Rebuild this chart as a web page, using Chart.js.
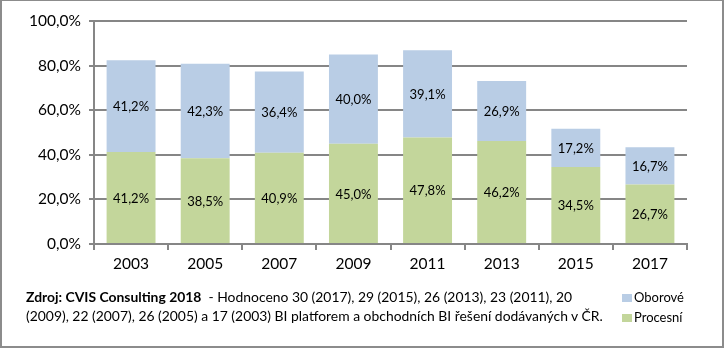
<!DOCTYPE html>
<html lang="cs">
<head>
<meta charset="utf-8">
<script src="https://cdn.jsdelivr.net/npm/chart.js@4/dist/chart.umd.min.js"></script>
<style>
  html, body { margin: 0; padding: 0; background: #fff; }
  #wrap { position: relative; width: 724px; height: 348px; overflow: hidden; font-family: Lato, "Noto Sans", sans-serif; }
  #chart { position: absolute; left: 0; top: 0; }
  #frame {
    position: absolute; left: 0; top: 0; width: 724px; height: 348px; box-sizing: border-box;
    border: 2px solid #8c8c8c; border-top-width: 1px; pointer-events: none;
  }
  #note { position: absolute; left: 26px; top: 288px; font-size: 13.9px; line-height: 18.5px; color: #000; white-space: nowrap; }
  #note b { font-weight: bold; }
  #legend { position: absolute; left: 622px; top: 288px; font-size: 13px; line-height: 19.5px; color: #000; }
  #legend div { white-space: nowrap; }
  #legend span { display: inline-block; width: 10px; height: 8px; margin-right: 2px; vertical-align: 0px; }
</style>
</head>
<body>
<div id="wrap">
  <canvas id="chart" width="724" height="348"></canvas>
  <div id="note">
    <div><b>Zdroj: CVIS Consulting 2018</b>&nbsp; - Hodnoceno 30 (2017), 29 (2015), 26 (2013), 23 (2011), 20</div>
    <div>(2009), 22 (2007), 26 (2005) a 17 (2003) BI platforem a obchodních BI řešení dodávaných v ČR.</div>
  </div>
  <div id="legend"></div>
  <div id="frame"></div>
</div>
<script>
(function () {
  if (typeof Chart === 'undefined') return;

  const years = ['2003', '2005', '2007', '2009', '2011', '2013', '2015', '2017'];
  const procesni = [41.2, 38.5, 40.9, 45.0, 47.8, 46.2, 34.5, 26.7];
  const oborove = [41.2, 42.3, 36.4, 40.0, 39.1, 26.9, 17.2, 16.7];

  const green = '#c3d69b';
  const blue = '#b9cde5';
  const gridGray = '#868686';
  const font = 'Lato, "Noto Sans", sans-serif';

  const pct = v => v.toFixed(1).replace('.', ',') + '%';

  // value labels in the middle of every stacked segment
  const segmentLabels = {
    id: 'segmentLabels',
    afterDatasetsDraw(chart) {
      const ctx = chart.ctx;
      ctx.save();
      ctx.font = '13px ' + font;
      ctx.fillStyle = '#000';
      ctx.textAlign = 'center';
      ctx.textBaseline = 'middle';
      chart.data.datasets.forEach((ds, i) => {
        chart.getDatasetMeta(i).data.forEach((bar, j) => {
          const p = bar.getProps(['x', 'y', 'base'], true);
          ctx.fillText(pct(ds.data[j]), p.x, (p.y + p.base) / 2 + 1);
        });
      });
      ctx.restore();
    }
  };

  const chart = new Chart(document.getElementById('chart'), {
    type: 'bar',
    data: {
      labels: years,
      datasets: [
        { label: 'Procesní', data: procesni, backgroundColor: green, borderWidth: 0 },
        { label: 'Oborové', data: oborove, backgroundColor: blue, borderWidth: 0 },
      ],
    },
    options: {
      responsive: false,
      animation: false,
      events: [],
      barPercentage: 0.66,
      categoryPercentage: 1,
      layout: { padding: { left: 0, right: 37, top: 21, bottom: 74 } },
      plugins: {
        legend: { display: false },
        tooltip: { enabled: false },
      },
      scales: {
        x: {
          stacked: true,
          afterFit: s => { s.height = 30; },
          grid: { drawOnChartArea: false, color: gridGray, lineWidth: 2, tickLength: 6, offset: true },
          border: { color: gridGray, width: 2 },
          ticks: { color: '#000', font: { family: font, size: 15.5 }, padding: 5 },
        },
        y: {
          stacked: true,
          min: 0,
          max: 100,
          afterFit: s => { s.width = 94; },
          grid: { color: gridGray, lineWidth: 2, tickLength: 5 },
          border: { color: gridGray, width: 2 },
          ticks: { stepSize: 20, color: '#000', font: { family: font, size: 15.5 }, padding: 8, callback: v => pct(v) },
        },
      },
    },
    plugins: [segmentLabels],
  });

  // legend, top series first
  const legend = document.getElementById('legend');
  chart.data.datasets.slice().reverse().forEach(ds => {
    const row = document.createElement('div');
    const box = document.createElement('span');
    box.style.background = ds.backgroundColor;
    row.appendChild(box);
    row.appendChild(document.createTextNode(ds.label));
    legend.appendChild(row);
  });
})();
</script>
</body>
</html>
